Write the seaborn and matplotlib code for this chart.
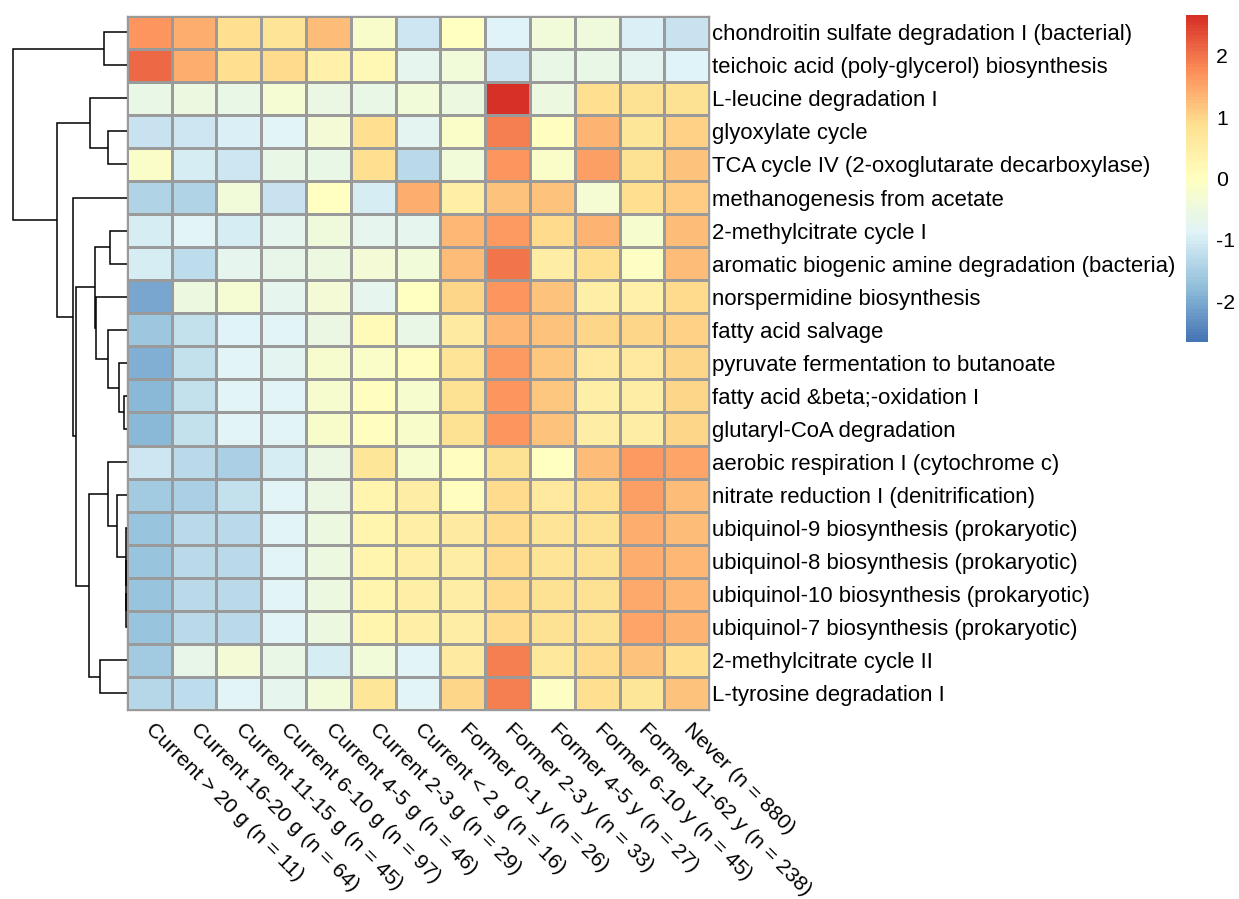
import numpy as np
import pandas as pd
import matplotlib
matplotlib.use("Agg")
import matplotlib.pyplot as plt
from matplotlib.colors import LinearSegmentedColormap
import seaborn as sns

# ---------------- data ----------------
groups = ["Current > 20 g (n = 11)", "Current 16-20 g (n = 64)", "Current 11-15 g (n = 45)",
          "Current 6-10 g (n = 97)", "Current 4-5 g (n = 46)", "Current 2-3 g (n = 29)",
          "Current < 2 g (n = 16)", "Former 0-1 y (n = 26)", "Former 2-3 y (n = 33)",
          "Former 4-5 y (n = 27)", "Former 6-10 y (n = 45)", "Former 11-62 y (n = 238)",
          "Never (n = 880)"]

pathways = [
    "chondroitin sulfate degradation I (bacterial)",
    "teichoic acid (poly-glycerol) biosynthesis",
    "L-leucine degradation I",
    "glyoxylate cycle",
    "TCA cycle IV (2-oxoglutarate decarboxylase)",
    "methanogenesis from acetate",
    "2-methylcitrate cycle I",
    "aromatic biogenic amine degradation (bacteria)",
    "norspermidine biosynthesis",
    "fatty acid salvage",
    "pyruvate fermentation to butanoate",
    "fatty acid &beta;-oxidation I",
    "glutaryl-CoA degradation",
    "aerobic respiration I (cytochrome c)",
    "nitrate reduction I (denitrification)",
    "ubiquinol-9 biosynthesis (prokaryotic)",
    "ubiquinol-8 biosynthesis (prokaryotic)",
    "ubiquinol-10 biosynthesis (prokaryotic)",
    "ubiquinol-7 biosynthesis (prokaryotic)",
    "2-methylcitrate cycle II",
    "L-tyrosine degradation I",
]

chondroitin   = [1.70, 1.40, 0.90, 0.75, 1.25, -0.20, -1.10, -0.05, -0.90, -0.40, -0.45, -0.95, -1.15]
teichoic      = [2.10, 1.40, 0.90, 0.95, 0.40, 0.20, -0.70, -0.40, -1.10, -0.60, -0.60, -0.75, -0.90]
leucine       = [-0.60, -0.50, -0.60, -0.30, -0.55, -0.60, -0.40, -0.50, 2.66, -0.50, 0.90, 0.80, 0.80]
glyoxylate    = [-1.15, -1.10, -0.95, -0.85, -0.35, 0.90, -0.75, -0.15, 1.90, 0.02, 1.35, 0.70, 1.05]
tca4          = [-0.15, -1.00, -1.10, -0.60, -0.60, 0.90, -1.30, -0.40, 1.65, -0.15, 1.55, 0.85, 1.20]
methanogen    = [-1.40, -1.40, -0.40, -1.15, -0.05, -1.00, 1.40, 0.45, 1.20, 1.20, -0.30, 0.90, 1.10]
methylcit1    = [-1.00, -0.85, -1.00, -0.70, -0.45, -0.70, -0.70, 1.30, 1.60, 0.95, 1.35, -0.25, 1.25]
aromatic      = [-1.00, -1.25, -0.70, -0.65, -0.50, -0.35, -0.40, 1.25, 2.00, 0.50, 0.90, -0.10, 1.25]
norspermidine = [-2.05, -0.50, -0.30, -0.70, -0.35, -0.70, -0.05, 1.00, 1.65, 1.20, 0.45, 0.40, 0.95]
fa_salvage    = [-1.60, -1.20, -0.90, -0.80, -0.55, 0.15, -0.60, 0.55, 1.30, 1.20, 1.00, 1.00, 1.05]
pyruvate      = [-1.95, -1.20, -0.85, -0.75, -0.25, -0.15, 0.00, 0.75, 1.60, 1.15, 0.60, 0.60, 1.00]
beta_ox       = [-1.85, -1.20, -0.85, -0.80, -0.25, 0.00, -0.25, 0.85, 1.70, 1.15, 0.45, 0.50, 1.00]
glutaryl      = [-1.85, -1.20, -0.85, -0.80, -0.20, 0.05, -0.20, 0.85, 1.70, 1.20, 0.50, 0.50, 1.00]
aerobic       = [-1.10, -1.30, -1.45, -1.00, -0.55, 0.70, -0.25, 0.05, 0.80, -0.05, 1.25, 1.60, 1.50]
nitrate       = [-1.55, -1.45, -1.20, -0.85, -0.55, 0.30, 0.50, 0.05, 0.95, 0.60, 0.90, 1.55, 1.25]
ubiq9         = [-1.70, -1.30, -1.30, -0.85, -0.50, 0.30, 0.45, 0.55, 0.95, 0.75, 0.85, 1.40, 1.25]
ubiq8         = [-1.70, -1.30, -1.30, -0.85, -0.50, 0.30, 0.45, 0.50, 0.95, 0.75, 0.85, 1.40, 1.30]
ubiq10        = [-1.70, -1.30, -1.30, -0.85, -0.50, 0.30, 0.45, 0.50, 0.95, 0.80, 0.85, 1.45, 1.30]
ubiq7         = [-1.70, -1.30, -1.30, -0.85, -0.50, 0.30, 0.45, 0.50, 0.95, 0.80, 0.85, 1.50, 1.35]
methylcit2    = [-1.55, -0.65, -0.35, -0.60, -1.00, -0.40, -0.80, 0.55, 1.90, 0.65, 0.95, 1.20, 0.90]
tyrosine      = [-1.35, -1.25, -0.85, -0.70, -0.40, 0.70, -0.85, 1.00, 1.90, -0.10, 0.90, 0.70, 1.20]

# row dendrogram (leaves numbered in display order, new clusters from 21 upwards)
merge_left   = [0, 3, 2, 6, 11, 10, 9, 8, 24, 17, 16, 15, 14, 13, 19, 34, 29, 5, 23, 21]
merge_right  = [1, 4, 22, 7, 12, 25, 26, 27, 28, 18, 30, 31, 32, 33, 20, 35, 36, 37, 38, 39]
merge_height = [23, 19, 37, 17, 3, 8, 19, 30.3, 31.7, 0.3, 0.5, 0.8, 10, 19, 27, 38, 50.3, 54, 70, 114]

legend_ticks = [-2, -1, 0, 1, 2]

# ---------------- figure ----------------
rows_vals = [chondroitin, teichoic, leucine, glyoxylate, tca4, methanogen, methylcit1, aromatic,
             norspermidine, fa_salvage, pyruvate, beta_ox, glutaryl, aerobic, nitrate,
             ubiq9, ubiq8, ubiq10, ubiq7, methylcit2, tyrosine]
df = pd.DataFrame(rows_vals, index=pathways, columns=groups)

W, H = 1239, 899
fig = plt.figure(figsize=(W / 100, H / 100), dpi=100)
plt.rcParams['font.family'] = ['Liberation Sans', 'DejaVu Sans']
FS = 15.3
FS_ROW = 15.9

hx0, hx1, hy0, hy1 = 126.7, 709.3, 15.7, 710.0
ax = fig.add_axes([hx0 / W, 1 - hy1 / H, (hx1 - hx0) / W, (hy1 - hy0) / H])
cax = fig.add_axes([1186 / W, 1 - 342 / H, 21.7 / W, (342 - 15) / H])
dax = fig.add_axes([0, 1 - hy1 / H, hx0 / W, (hy1 - hy0) / H])

pal = ["#4575B4", "#91BFDB", "#E0F3F8", "#FFFFBF", "#FEE090", "#FC8D59", "#D73027"]
cmap = LinearSegmentedColormap.from_list("rdylbu_r", pal, N=100)
vlim = 2.66

sns.heatmap(df, ax=ax, cmap=cmap, vmin=-vlim, vmax=vlim, linewidths=0.75, linecolor="#9a9a9a",
            cbar_ax=cax, cbar_kws={"ticks": legend_ticks})
for s in ax.spines.values():
    s.set_visible(True)
    s.set_color("#9a9a9a")
    s.set_linewidth(1.0)
ax.set_xlabel("")
ax.set_ylabel("")
ax.yaxis.tick_right()
ax.set_yticks(np.arange(len(pathways)) + 0.5)
ax.set_yticklabels(pathways, rotation=0, fontsize=FS_ROW)
ax.tick_params(axis="y", length=0, pad=2)
ax.set_xticks(np.arange(len(groups)) + 0.5)
ax.set_xticklabels(groups, rotation=-45, ha="left", va="center", rotation_mode="anchor", fontsize=FS)
ax.tick_params(axis="x", length=0, pad=12)

cax.tick_params(length=0, labelsize=FS, pad=6)
cax.set_yticklabels(["-2", "-1", "0", "1", "2"])
for s in cax.spines.values():
    s.set_visible(False)

# dendrogram drawing
n = len(pathways)
pos = {i: i + 0.5 for i in range(n)}
hgt = {i: 0.0 for i in range(n)}
for k, (a, b, h) in enumerate(zip(merge_left, merge_right, merge_height)):
    node = n + k
    ya, yb = pos[a], pos[b]
    dax.plot([hgt[a], h, h, hgt[b]], [ya, ya, yb, yb], color="black", lw=1.1,
             solid_joinstyle="miter", solid_capstyle="butt")
    pos[node] = (ya + yb) / 2
    hgt[node] = h
dax.set_ylim(n, 0)
dax.set_xlim(hx0, 0)
dax.axis("off")

fig.savefig("out.png", dpi=100, facecolor="white")
